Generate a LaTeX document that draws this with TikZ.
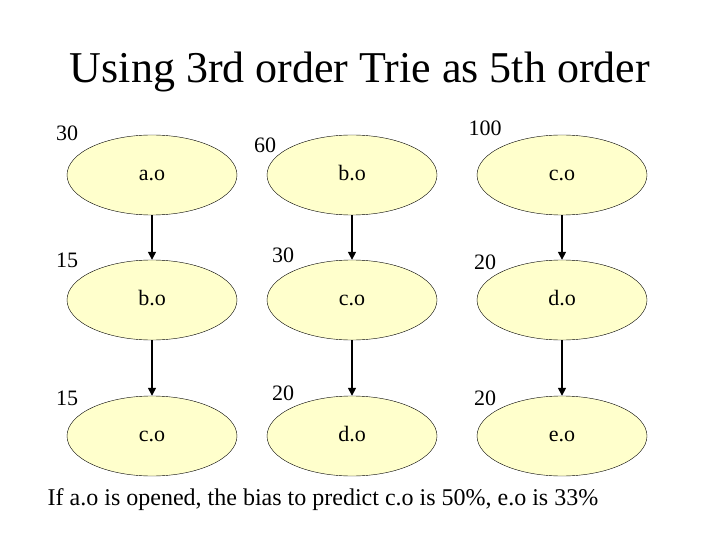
\documentclass[tikz,border=0pt]{standalone}
\usepackage{fontspec}
\setmainfont{Liberation Serif}
\usetikzlibrary{shapes.geometric,arrows.meta}
\definecolor{nodefill}{RGB}{255,255,204}
\begin{document}
\begin{tikzpicture}[x=1pt,y=-1pt,
  oval/.style={ellipse,draw=black,fill=nodefill,minimum width=170pt,minimum height=80pt,inner sep=0pt,text height=11pt,text depth=0pt,font=\fontsize{22}{26}\selectfont},
  num/.style={font=\fontsize{22}{26}\selectfont,inner sep=0pt,text height=15pt,text depth=0pt},
  arr/.style={draw=black,line width=1.5pt,-{Triangle[length=8pt,width=8pt]}}]
\useasboundingbox (0,0) rectangle (720,540);
\node[font=\fontsize{44}{52}\selectfont] (title) at (360,72) {Using 3rd order Trie as 5th order};
\node (a1) [oval] at (152,175) {a.o};
\node (b1) [oval] at (352,175) {b.o};
\node (c1) [oval] at (562,175) {c.o};
\node (a2) [oval] at (152,300) {b.o};
\node (b2) [oval] at (352,300) {c.o};
\node (c2) [oval] at (562,300) {d.o};
\node (a3) [oval] at (152,436) {c.o};
\node (b3) [oval] at (352,436) {d.o};
\node (c3) [oval] at (562,436) {e.o};
\foreach \u/\v in {a1/a2,b1/b2,c1/c2,a2/a3,b2/b3,c2/c3}
  \draw[arr] (\u.south) -- (\v.north);
\node[num] (l1) at (67,133) {30};
\node[num] (l2) at (265,145) {60};
\node[num] (l3) at (485,128) {100};
\node[num] (l4) at (67,260) {15};
\node[num] (l5) at (283,255) {30};
\node[num] (l6) at (485,262) {20};
\node[num] (l7) at (67,398) {15};
\node[num] (l8) at (283,393) {20};
\node[num] (l9) at (485,398) {20};
\node[font=\fontsize{24}{28}\selectfont] (foot) at (323,500) {If a.o is opened, the bias to predict c.o is 50\%, e.o is 33\%};
\end{tikzpicture}
\end{document}
